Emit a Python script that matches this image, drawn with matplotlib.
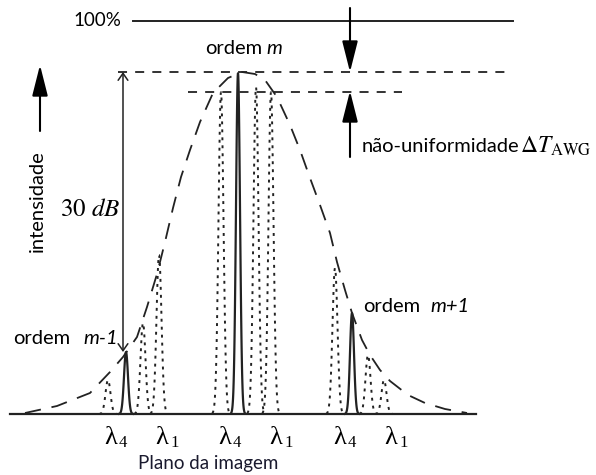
import numpy as np
import matplotlib.pyplot as plt

plt.rcParams['font.family'] = ['Lato', 'DejaVu Sans']

# --- data (pixel coords, y grows downward) ---
BASE = 414
# envelope of the diffraction orders (dashed curve)
env_x = [25, 57, 90, 110, 123, 137, 147, 157, 165, 173, 181, 190, 200, 213, 228, 242,
         255, 265, 277, 290, 300, 310, 320, 330, 337, 345, 352, 362, 370, 380, 390, 408,
         425, 445, 467]
env_y = [413, 406, 393, 372, 357, 337, 307, 274, 242, 208, 177, 150, 122, 93, 78, 72,
         74, 80, 97, 125, 150, 178, 205, 233, 262, 290, 313, 340, 355, 370, 381, 395,
         403, 409, 413]

# lambda_4 peaks (solid) for orders m-1, m, m+1
solid_x = [126, 238, 352]
solid_top = [352, 73, 313]
# other wavelengths (dotted)
dotted_x = [108, 143, 159, 221, 256, 271, 335, 368, 384]
dotted_top = [380, 323, 255, 92, 87, 92, 268, 355, 380]

lam4_x = [114, 228, 343]
lam1_x = [165, 279, 394]

INK = '#222222'

fig = plt.figure(figsize=(5.96, 4.75), dpi=100)
ax = fig.add_axes([0, 0, 1, 1])
ax.set_xlim(0, 596)
ax.set_ylim(475, 0)
ax.axis('off')


def peak(c, top, sigma):
    xs = np.linspace(c - 3.5 * sigma, c + 3.5 * sigma, 80)
    ys = BASE - (BASE - top) * np.exp(-0.5 * ((xs - c) / sigma) ** 2)
    return xs, ys


# envelope
ax.plot(env_x, env_y, color=INK, lw=1.3, linestyle=(0, (9, 6)))

# peaks
for c, t in zip(dotted_x, dotted_top):
    xs, ys = peak(c, t, 2.5)
    ax.plot(xs, ys, color=INK, lw=1.4, linestyle=(0, (1.5, 2.6)))
for c, t in zip(solid_x, solid_top):
    xs, ys = peak(c, t, 2.0)
    ax.plot(xs, ys, color=INK, lw=1.6)

# image plane baseline
ax.plot([10, 476], [BASE, BASE], color=INK, lw=1.6)

# reference levels
ax.plot([133, 513], [21, 21], color=INK, lw=1.4)
ax.plot([118, 507], [72, 72], color=INK, lw=1.3, linestyle=(0, (5, 4.5)))
ax.plot([188, 402], [92, 92], color=INK, lw=1.3, linestyle=(0, (5, 4.5)))
ax.text(73, 21, '100%', fontsize=13.5, va='center', ha='left', color='black')

# non-uniformity arrows
big_head = dict(arrowstyle='-|>,head_length=1.9,head_width=0.48', color='black',
                lw=1.5, mutation_scale=10, shrinkA=0, shrinkB=0)
ax.annotate('', xy=(350, 72), xytext=(350, 8), arrowprops=big_head)
ax.annotate('', xy=(350, 91), xytext=(350, 157), arrowprops=big_head)
ax.text(362, 146, 'não-uniformidade', fontsize=14.5, va='center', ha='left')
ax.text(520, 146, r'$\Delta T_{\mathrm{AWG}}$', fontsize=17, va='center', ha='left',
        math_fontfamily='stix')

# intensity axis arrow
ax.annotate('', xy=(40, 65), xytext=(40, 131), arrowprops=big_head)
ax.text(37, 201, 'intensidade', rotation=90, fontsize=14.5, va='center', ha='center')

# 30 dB span
ax.annotate('', xy=(123, 72), xytext=(123, 352),
            arrowprops=dict(arrowstyle='<->,head_length=0.5,head_width=0.35', color=INK,
                            lw=1.1, mutation_scale=10, shrinkA=0, shrinkB=0))
ax.text(120, 208, r'$30\ dB$', fontsize=18, va='center', ha='right',
        math_fontfamily='stix')

# order labels
ax.text(205, 48, 'ordem', fontsize=14.5, va='center', ha='left')
ax.text(266, 48, 'm', fontsize=14.5, va='center', ha='left', style='italic')
ax.text(13, 338, 'ordem', fontsize=14.5, va='center', ha='left')
ax.text(83, 338, 'm-1', fontsize=14.5, va='center', ha='left', style='italic')
ax.text(363, 306, 'ordem', fontsize=14.5, va='center', ha='left')
ax.text(430, 306, 'm+1', fontsize=14.5, va='center', ha='left', style='italic')

# wavelength labels
for x in lam4_x:
    ax.text(x - 3, 438, 'λ', fontsize=19, va='center', ha='center', family='Liberation Serif')
    ax.text(x + 5, 443, '4', fontsize=12, va='center', ha='left', family='Liberation Serif')
for x in lam1_x:
    ax.text(x - 3, 438, 'λ', fontsize=19, va='center', ha='center', family='Liberation Serif')
    ax.text(x + 5, 443, '1', fontsize=12, va='center', ha='left', family='Liberation Serif')

ax.text(208, 463, 'Plano da imagem', fontsize=13.5, va='center', ha='center', color='#1a1a2e')

fig.savefig('out.png', dpi=100)
